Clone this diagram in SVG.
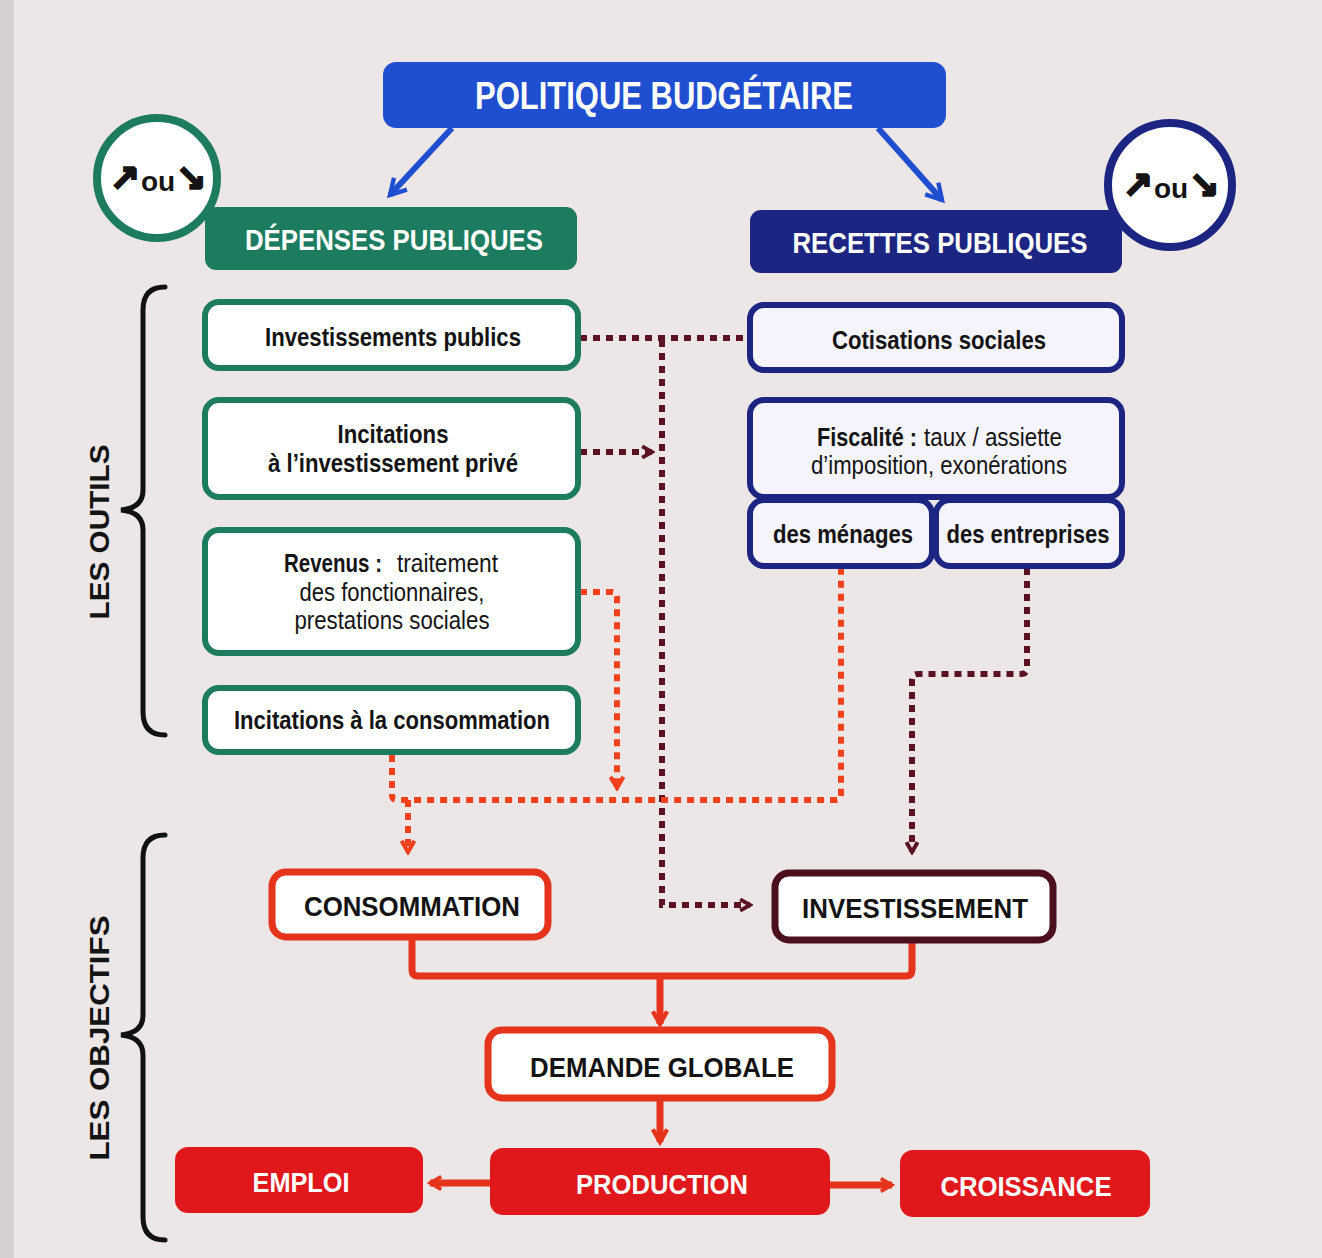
<svg xmlns="http://www.w3.org/2000/svg" width="1322" height="1258" viewBox="0 0 1322 1258">
<defs>
<style>
.t{font-family:"Liberation Sans Narrow","Liberation Sans",Arial,sans-serif;font-weight:bold;text-anchor:middle}
.s{text-anchor:start}
.n{font-weight:normal}
.dk{fill:#141414}
.wh{fill:#ffffff}
.ar{font-family:"DejaVu Sans",sans-serif;stroke:#141414;stroke-width:2.2}
.gbox{fill:#ffffff;stroke:#1d7c5f;stroke-width:6}
.bbox{fill:#f5f3fb;stroke:#1c2682;stroke-width:6}
.rbox{fill:#ffffff;stroke:#e5331c;stroke-width:7}
.mbox{fill:#ffffff;stroke:#4c0f1e;stroke-width:7}
.rfill{fill:#e0181c}
.dotm{fill:none;stroke:#5a1222;stroke-width:6;stroke-dasharray:7 6}
.dotr{fill:none;stroke:#f0401c;stroke-width:6;stroke-dasharray:7 6}
.solr{fill:none;stroke:#e5331c;stroke-width:7;stroke-linejoin:round}
.blu{fill:none;stroke:#1f4fd0;stroke-width:6}
.brace{fill:none;stroke:#111;stroke-width:5;stroke-linecap:round}
</style>
<marker id="am" viewBox="0 0 10 10" refX="8" refY="5" markerWidth="14" markerHeight="14" markerUnits="userSpaceOnUse" orient="auto"><path d="M1,1 L8,5 L1,9" fill="none" stroke="#5a1222" stroke-width="2.8"/></marker>
<marker id="ar" viewBox="0 0 10 10" refX="8" refY="5" markerWidth="16" markerHeight="16" markerUnits="userSpaceOnUse" orient="auto"><path d="M1,1 L8,5 L1,9" fill="none" stroke="#f0401c" stroke-width="2.6"/></marker>
<marker id="as" viewBox="0 0 10 10" refX="8" refY="5" markerWidth="18" markerHeight="18" markerUnits="userSpaceOnUse" orient="auto"><path d="M1,1 L8,5 L1,9" fill="none" stroke="#e5331c" stroke-width="2.4"/></marker>
<marker id="ab" viewBox="0 0 10 10" refX="8" refY="5" markerWidth="22" markerHeight="22" markerUnits="userSpaceOnUse" orient="auto"><path d="M1,1 L8,5 L1,9" fill="none" stroke="#1f4fd0" stroke-width="2"/></marker>
<marker id="aw" viewBox="0 0 10 10" refX="8" refY="5" markerWidth="16" markerHeight="16" markerUnits="userSpaceOnUse" orient="auto"><path d="M1,1 L8,5 L1,9" fill="none" stroke="#e5331c" stroke-width="2.2"/></marker>
</defs>
<rect width="1322" height="1258" fill="#ece6e6"/>
<rect x="0" y="0" width="14" height="1258" fill="#d6d0d0"/>

<g id="connectors">
<path class="blu" d="M452,128 L390,195" marker-end="url(#ab)"/>
<path class="blu" d="M878,128 L942,200" marker-end="url(#ab)"/>
<path class="dotm" d="M580,338 H748"/>
<path class="dotm" d="M662,340 V905 H750" marker-end="url(#am)"/>
<path class="dotm" d="M580,452 H652" marker-end="url(#am)"/>
<path class="dotm" d="M1027,568 V668 Q1027,674 1021,674 H918 Q912,674 912,680 V852" marker-end="url(#am)"/>
<path class="dotr" d="M580,592 H612 Q617,592 617,598 V788" marker-end="url(#ar)"/>
<path class="dotr" d="M392,755 V795 Q392,800 397,800 H836 Q841,800 841,795 V568"/>
<path class="dotr" d="M408,800 V852" marker-end="url(#ar)"/>
<path class="solr" d="M412,940 V970 Q412,976 418,976 H906 Q912,976 912,970 V942"/>
<path class="solr" d="M660,976 V1024" marker-end="url(#as)"/>
<path class="solr" d="M660,1100 V1142" marker-end="url(#as)"/>
<path class="solr" stroke-width="8" d="M490,1183 H430" marker-end="url(#aw)"/>
<path class="solr" stroke-width="8" d="M830,1185 H892" marker-end="url(#aw)"/>
</g>

<g id="braces">
<path class="brace" d="M165,287 Q143,287 143,310 V490 Q143,508 121,510 Q143,512 143,530 V712 Q143,735 165,735"/>
<text class="t dk" font-size="27" textLength="175" lengthAdjust="spacingAndGlyphs" transform="translate(109,532) rotate(-90)">LES OUTILS</text>
<path class="brace" d="M165,835 Q143,835 143,858 V1015 Q143,1033 121,1035 Q143,1037 143,1055 V1217 Q143,1240 165,1240"/>
<text class="t dk" font-size="27" textLength="245" lengthAdjust="spacingAndGlyphs" transform="translate(109,1038) rotate(-90)">LES OBJECTIFS</text>
</g>

<g id="politique">
<rect x="383" y="62" width="563" height="66" rx="13" fill="#1f4fd0"/>
<text class="t wh" x="664" y="109" font-size="38" textLength="378" lengthAdjust="spacingAndGlyphs">POLITIQUE BUDGÉTAIRE</text>
</g>

<g id="depenses">
<rect x="205" y="207" width="372" height="63" rx="11" fill="#1d7c5f"/>
<text class="t wh" x="394" y="250" font-size="30" textLength="298" lengthAdjust="spacingAndGlyphs">DÉPENSES PUBLIQUES</text>
</g>
<g id="circle-dep">
<circle cx="157" cy="178" r="60" fill="#ffffff" stroke="#1d7c5f" stroke-width="8"/>
<text class="t dk" x="158" y="191" font-size="28"><tspan class="ar" font-size="36">↗</tspan><tspan dx="1">ou</tspan><tspan class="ar" dx="1" font-size="36">↘</tspan></text>
</g>

<g id="recettes">
<rect x="750" y="210" width="372" height="63" rx="11" fill="#1c2682"/>
<text class="t wh" x="940" y="253" font-size="30" textLength="295" lengthAdjust="spacingAndGlyphs">RECETTES PUBLIQUES</text>
</g>
<g id="circle-rec">
<circle cx="1170" cy="185" r="62" fill="#ffffff" stroke="#1c2682" stroke-width="8"/>
<text class="t dk" x="1171" y="198" font-size="28"><tspan class="ar" font-size="36">↗</tspan><tspan dx="1">ou</tspan><tspan class="ar" dx="1" font-size="36">↘</tspan></text>
</g>

<g id="inv-publics">
<rect class="gbox" x="205" y="302" width="373" height="66" rx="14"/>
<text class="t dk" x="393" y="346" font-size="25" textLength="256" lengthAdjust="spacingAndGlyphs">Investissements publics</text>
</g>
<g id="inc-inv-prive">
<rect class="gbox" x="205" y="400" width="373" height="97" rx="14"/>
<text class="t dk" x="393" y="443" font-size="25" textLength="111" lengthAdjust="spacingAndGlyphs">Incitations</text>
<text class="t dk" x="393" y="472" font-size="25" textLength="250" lengthAdjust="spacingAndGlyphs">à l’investissement privé</text>
</g>
<g id="revenus">
<rect class="gbox" x="205" y="530" width="373" height="123" rx="14"/>
<text class="t s dk" x="284" y="572" font-size="25" textLength="98" lengthAdjust="spacingAndGlyphs">Revenus :</text>
<text class="t s n dk" x="397" y="572" font-size="25" textLength="101" lengthAdjust="spacingAndGlyphs">traitement</text>
<text class="t dk n" x="392" y="601" font-size="25" textLength="185" lengthAdjust="spacingAndGlyphs">des fonctionnaires,</text>
<text class="t dk n" x="392" y="629" font-size="25" textLength="195" lengthAdjust="spacingAndGlyphs">prestations sociales</text>
</g>
<g id="inc-conso">
<rect class="gbox" x="205" y="688" width="373" height="64" rx="14"/>
<text class="t dk" x="392" y="729" font-size="25" textLength="316" lengthAdjust="spacingAndGlyphs">Incitations à la consommation</text>
</g>

<g id="cotisations">
<rect class="bbox" x="750" y="305" width="372" height="65" rx="14"/>
<text class="t dk" x="939" y="349" font-size="25" textLength="214" lengthAdjust="spacingAndGlyphs">Cotisations sociales</text>
</g>
<g id="fiscalite">
<rect class="bbox" x="750" y="400" width="372" height="97" rx="14"/>
<text class="t s dk" x="817" y="446" font-size="25" textLength="100" lengthAdjust="spacingAndGlyphs">Fiscalité :</text>
<text class="t s n dk" x="924" y="446" font-size="25" textLength="138" lengthAdjust="spacingAndGlyphs">taux / assiette</text>
<text class="t dk n" x="939" y="474" font-size="25" textLength="256" lengthAdjust="spacingAndGlyphs">d’imposition, exonérations</text>
</g>
<g id="menages">
<rect class="bbox" x="750" y="500" width="182" height="66" rx="14"/>
<text class="t dk" x="843" y="543" font-size="25" textLength="140" lengthAdjust="spacingAndGlyphs">des ménages</text>
</g>
<g id="entreprises">
<rect class="bbox" x="936" y="500" width="186" height="66" rx="14"/>
<text class="t dk" x="1028" y="543" font-size="25" textLength="163" lengthAdjust="spacingAndGlyphs">des entreprises</text>
</g>

<g id="consommation">
<rect class="rbox" x="272" y="872" width="276" height="65" rx="14"/>
<text class="t dk" x="412" y="916" font-size="28" textLength="216" lengthAdjust="spacingAndGlyphs">CONSOMMATION</text>
</g>
<g id="investissement">
<rect class="mbox" x="775" y="873" width="278" height="67" rx="14"/>
<text class="t dk" x="915" y="918" font-size="28" textLength="226" lengthAdjust="spacingAndGlyphs">INVESTISSEMENT</text>
</g>
<g id="demande">
<rect class="rbox" x="488" y="1030" width="344" height="68" rx="14"/>
<text class="t dk" x="662" y="1077" font-size="28" textLength="264" lengthAdjust="spacingAndGlyphs">DEMANDE GLOBALE</text>
</g>
<g id="emploi">
<rect class="rfill" x="175" y="1147" width="248" height="66" rx="13"/>
<text class="t wh" x="301" y="1192" font-size="27" textLength="97" lengthAdjust="spacingAndGlyphs">EMPLOI</text>
</g>
<g id="production">
<rect class="rfill" x="490" y="1148" width="340" height="67" rx="13"/>
<text class="t wh" x="662" y="1194" font-size="27" textLength="172" lengthAdjust="spacingAndGlyphs">PRODUCTION</text>
</g>
<g id="croissance">
<rect class="rfill" x="900" y="1150" width="250" height="67" rx="13"/>
<text class="t wh" x="1026" y="1196" font-size="27" textLength="171" lengthAdjust="spacingAndGlyphs">CROISSANCE</text>
</g>
</svg>
